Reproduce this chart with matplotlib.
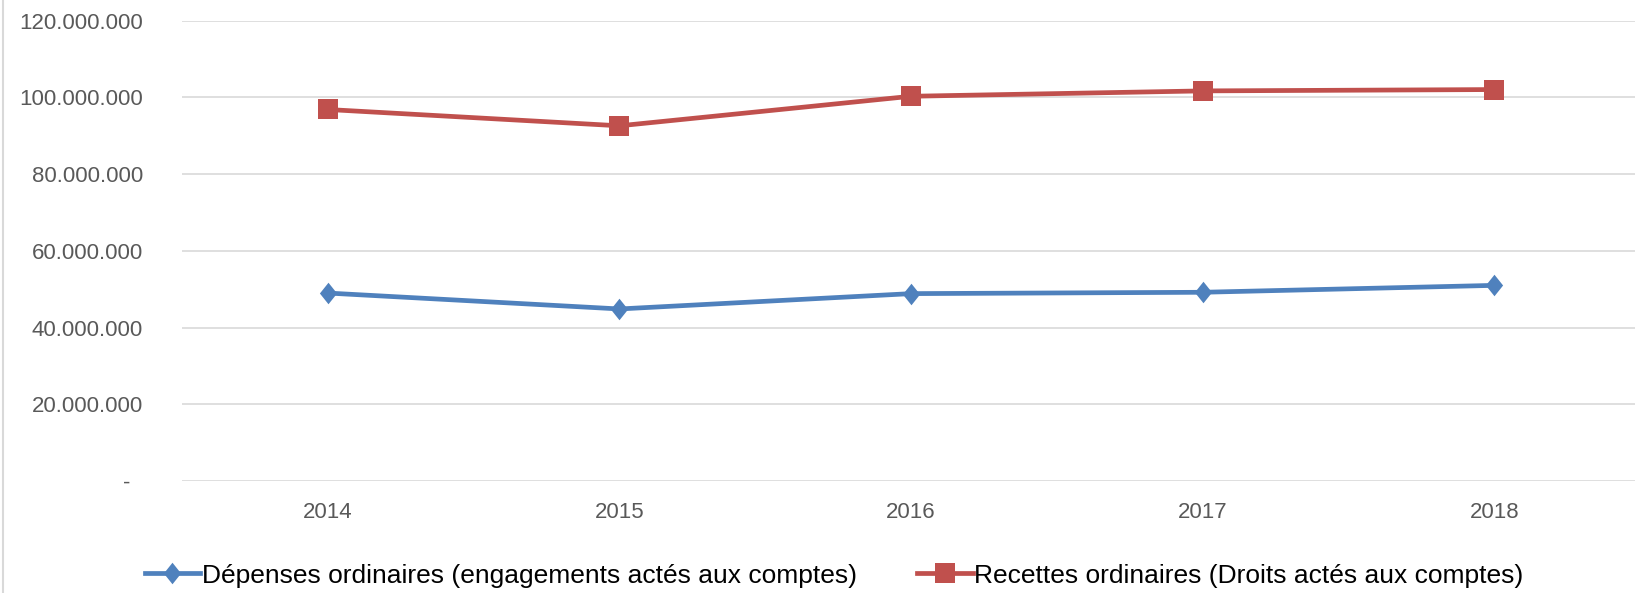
import matplotlib
matplotlib.use("Agg")
import matplotlib.pyplot as plt
from matplotlib.ticker import FixedLocator, FuncFormatter
from matplotlib.lines import Line2D

years = ["2014", "2015", "2016", "2017", "2018"]
depenses = [49.0e6, 44.85e6, 48.85e6, 49.2e6, 51.0e6]
recettes = [96.85e6, 92.6e6, 100.3e6, 101.7e6, 102.05e6]
label_dep = "Dépenses ordinaires (engagements actés aux comptes)"
label_rec = "Recettes ordinaires (Droits actés aux comptes)"
yticks = [0, 20e6, 40e6, 60e6, 80e6, 100e6, 120e6]

plt.rcParams['font.family'] = ['Liberation Sans', 'DejaVu Sans']

W, H = 1635, 593
fig = plt.figure(figsize=(W / 100, H / 100), dpi=100)
ax = fig.add_axes([182 / W, 112 / H, (1640 - 182) / W, (572.3 - 112) / H])

blue = "#4F81BD"
red = "#C0504D"
diamond = [(0, 1), (0.8, 0), (0, -1), (-0.8, 0), (0, 1)]
LW = 3.4
dkw = dict(color=blue, lw=LW, marker=diamond, markersize=15.5, markeredgewidth=0)
skw = dict(color=red, lw=LW, marker="s", markersize=14.5, markeredgewidth=0)

x = list(range(len(years)))
ax.plot(x, depenses, label=label_dep, zorder=3, clip_on=False, **dkw)
ax.plot(x, recettes, label=label_rec, zorder=3, clip_on=False, **skw)

ax.set_xlim(-0.5, len(years) - 0.5)
ax.set_ylim(0, 120e6)
ax.set_xticks(x)
ax.set_xticklabels(years)
ax.yaxis.set_major_locator(FixedLocator(yticks))


def fmt(v, pos):
    if v == 0:
        return "-  "
    return f"{int(v):,}".replace(",", ".")


ax.yaxis.set_major_formatter(FuncFormatter(fmt))
ax.grid(axis="y", color="#D9D9D9", lw=1.2)
ax.set_axisbelow(True)
for s in ax.spines.values():
    s.set_visible(False)
ax.tick_params(axis="both", length=0, labelcolor="#595959", labelsize=16)
ax.tick_params(axis="y", pad=28)
ax.tick_params(axis="x", pad=15)

# chart border at left
fig.add_artist(Line2D([3 / W, 3 / W], [0, 1], color="#D9D9D9", lw=1.5,
                      transform=fig.transFigure))

h = [Line2D([], [], **dkw), Line2D([], [], **skw)]
fig.legend(h, [label_dep, label_rec], loc="center",
           bbox_to_anchor=(834 / W, 1 - 575.5 / H), ncol=2, frameon=False,
           fontsize=19, handlelength=2.1, handletextpad=0.05,
           columnspacing=2.3, labelcolor="black")

fig.savefig("out.png", dpi=100, facecolor="white")
